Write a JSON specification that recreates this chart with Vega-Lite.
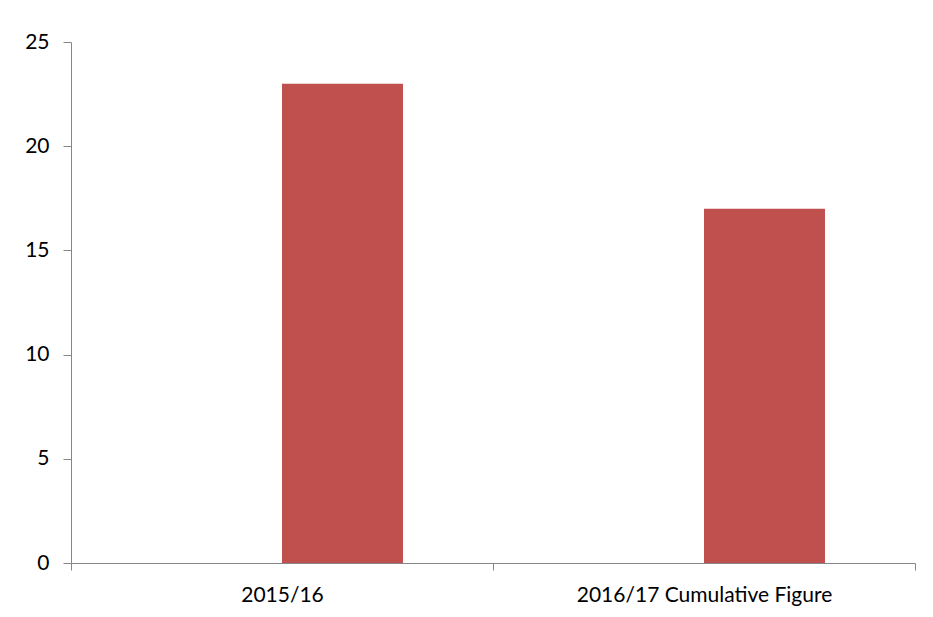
{
  "$schema": "https://vega.github.io/schema/vega-lite/v6.json",
  "autosize": {"type": "none"},
  "padding": {"left": 71, "top": 42, "right": 18, "bottom": 54},
  "width": 844,
  "height": 521,
  "background": "white",
  "config": {
    "view": {"stroke": null},
    "font": "Lato",
    "axis": {"labelFont": "Lato", "labelFontSize": 21, "labelColor": "#000000", "domainColor": "#868686", "tickColor": "#868686", "grid": false, "title": null}
  },
  "data": {"values": [
    {"period": "2015/16", "series": "Series2", "value": 23},
    {"period": "2016/17 Cumulative Figure", "series": "Series2", "value": 17}
  ]},
  "mark": {"type": "bar", "color": "#C0504D"},
  "encoding": {
    "x": {
      "field": "period", "type": "nominal", "sort": null,
      "scale": {"paddingInner": 0, "paddingOuter": 0},
      "axis": {"labelAngle": 0, "tickBand": "extent", "tickSize": 7, "labelPadding": 14, "labelAlign": "center", "labelLimit": 0}
    },
    "xOffset": {
      "field": "series", "type": "nominal",
      "scale": {"domain": ["Series1", "Series2"], "paddingInner": 0, "paddingOuter": 0.744}
    },
    "y": {
      "field": "value", "type": "quantitative",
      "scale": {"domain": [0, 25], "nice": false},
      "axis": {"values": [0, 5, 10, 15, 20, 25], "tickSize": 8, "labelPadding": 14}
    }
  }
}
